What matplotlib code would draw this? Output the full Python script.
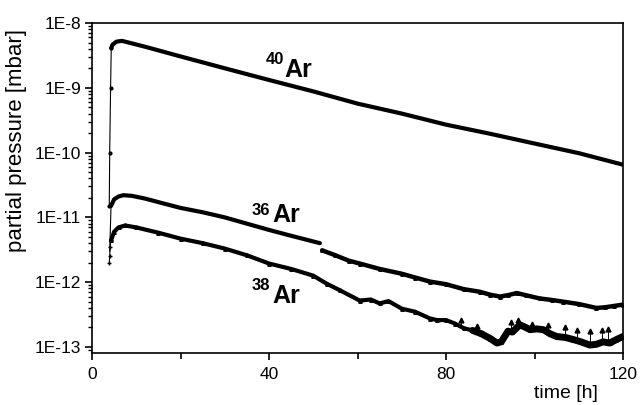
import matplotlib
matplotlib.use("Agg")
import matplotlib.pyplot as plt
from matplotlib.ticker import FixedLocator, LogLocator, NullFormatter

plt.rcParams['font.family'] = ['Liberation Sans', 'DejaVu Sans']

# ---- data ----
t40 = [3.9, 4.0, 4.2, 4.35, 4.6, 5.5, 6.8, 9, 12, 20, 30, 40, 50, 60, 70, 80, 90, 100, 110, 120]
p40 = [1.5e-11, 1e-10, 1e-9, 4.1e-9, 4.6e-9, 5.15e-9, 5.3e-9, 4.85e-9, 4.3e-9, 3.05e-9, 2.0e-9,
       1.32e-9, 8.8e-10, 5.7e-10, 4.0e-10, 2.7e-10, 1.95e-10, 1.38e-10, 9.8e-11, 6.5e-11]

t36a = [4.0, 4.3, 5.0, 6.0, 7.1, 9, 12, 16, 20, 25, 30, 35, 40, 45, 51.5]
p36a = [3e-12, 1.5e-11, 1.9e-11, 2.1e-11, 2.2e-11, 2.15e-11, 1.95e-11, 1.65e-11, 1.4e-11,
        1.2e-11, 1.0e-11, 8.0e-12, 6.4e-12, 5.2e-12, 4.0e-12]
t36b = [52, 55, 58, 60.5, 65, 70, 73, 76.4, 80, 84, 87.7, 90, 92.2, 94, 96, 98, 101.2, 104,
        106.5, 110, 114, 116, 118, 120]
p36b = [3.1e-12, 2.6e-12, 2.15e-12, 1.94e-12, 1.6e-12, 1.35e-12, 1.18e-12, 1.02e-12, 9.3e-13,
        7.8e-13, 7.1e-13, 6.4e-13, 6.0e-13, 6.3e-13, 6.8e-13, 6.3e-13, 5.6e-13, 5.3e-13,
        5.0e-13, 4.6e-13, 4.0e-13, 4.1e-13, 4.3e-13, 4.5e-13]

t38 = [3.9, 4.0, 4.1, 4.3, 5.0, 6.0, 7.5, 10, 15, 20, 25, 30, 35, 40, 45, 50, 53, 56, 60.5,
       63, 65, 67, 70, 73, 76.4, 78, 80, 82, 84, 86, 88, 90, 91.5, 92.5, 94, 95, 96.7, 98, 99,
       100.5, 102, 103.5, 105, 107, 108.8, 110.5, 112.5, 114, 115.5, 117, 118.5, 120]
p38 = [2.0e-12, 2.5e-12, 3.5e-12, 4.4e-12, 6.0e-12, 7.0e-12, 7.5e-12, 7.0e-12, 5.8e-12,
       4.7e-12, 4.0e-12, 3.3e-12, 2.6e-12, 1.94e-12, 1.6e-12, 1.26e-12, 9.5e-13, 7.5e-13,
       5.2e-13, 5.4e-13, 4.7e-13, 5.1e-13, 3.9e-13, 3.5e-13, 2.75e-13, 2.6e-13, 2.6e-13,
       2.3e-13, 1.95e-13, 1.8e-13, 1.6e-13, 1.35e-13, 1.15e-13, 1.2e-13, 1.75e-13, 1.7e-13,
       2.2e-13, 2.0e-13, 1.85e-13, 1.9e-13, 1.85e-13, 1.6e-13, 1.45e-13, 1.4e-13, 1.3e-13,
       1.2e-13, 1.07e-13, 1.1e-13, 1.2e-13, 1.15e-13, 1.3e-13, 1.45e-13]

# upward spikes in the noisy 38Ar tail
t38_spk = [83.3, 87.0, 94.8, 96.3, 99.4, 103.1, 106.9, 109.5, 112.5, 115.2, 116.7]
p38_spk_top = [2.6e-13, 2.1e-13, 2.45e-13, 2.6e-13, 2.3e-13, 2.2e-13, 2.0e-13, 1.85e-13,
               1.75e-13, 1.85e-13, 1.9e-13]
p38_spk_base = [2.1e-13, 1.7e-13, 1.7e-13, 2.0e-13, 1.85e-13, 1.65e-13, 1.4e-13, 1.25e-13,
                1.1e-13, 1.2e-13, 1.2e-13]

xticks_major = [0, 40, 80, 120]
xticks_minor = [20, 60, 100]
yticks = [1e-13, 1e-12, 1e-11, 1e-10, 1e-9, 1e-8]
ytick_labels = ['1E-13', '1E-12', '1E-11', '1E-10', '1E-9', '1E-8']

# ---- figure ----
fig = plt.figure(figsize=(6.4, 4.05), dpi=100)
ax = fig.add_axes([92/640, 1-353/405, (623-92)/640, (353-23)/405])

ax.set_yscale('log')
ax.set_xlim(0, 120)
ax.set_ylim(8.07e-14, 1e-8)

# thin rising parts
ax.plot(t40[:4], p40[:4], color='black', lw=0.8, marker='.', ms=4)
ax.plot(t36a[:2], p36a[:2], color='black', lw=0.8)
ax.plot(t38[:4], p38[:4], color='black', lw=0.8, marker='+', ms=3)
# main curves
ax.plot(t40[3:], p40[3:], color='black', lw=3.0, solid_capstyle='round')
ax.plot(t36a[1:], p36a[1:], color='black', lw=3.0, solid_capstyle='round')
ax.plot(t36b, p36b, color='black', lw=3.2, solid_capstyle='round', marker='^', ms=2.5)
ax.plot(t38[3:], p38[3:], color='black', lw=3.0, solid_capstyle='round', marker='^', ms=2.5)
ax.plot(t38[29:], p38[29:], color='black', lw=5.0, solid_capstyle='round', solid_joinstyle='round')
ax.vlines(t38_spk, p38_spk_base, p38_spk_top, color='black', lw=0.7)
ax.plot(t38_spk, p38_spk_top, ls='none', marker='^', ms=3.5, color='black')

# labels on curves
lab_kw = dict(fontsize=18, fontweight='bold', color='black')
sup_kw = dict(fontsize=12, fontweight='bold', color='black')
ax.text(43.4, 1.47e-9, 'Ar', ha='left', va='baseline', **lab_kw)
ax.text(43.4, 3.6e-9, '40', ha='right', va='top', **sup_kw)
ax.text(40.7, 8.5e-12, 'Ar', ha='left', va='baseline', **lab_kw)
ax.text(40.2, 1.67e-11, '36', ha='right', va='top', **sup_kw)
ax.text(40.7, 4.8e-13, 'Ar', ha='left', va='baseline', **lab_kw)
ax.text(40.3, 1.16e-12, '38', ha='right', va='top', **sup_kw)

# ticks
ax.xaxis.set_major_locator(FixedLocator(xticks_major))
ax.xaxis.set_minor_locator(FixedLocator(xticks_minor))
ax.set_xticklabels([str(v) for v in xticks_major])
ax.yaxis.set_major_locator(FixedLocator(yticks))
ax.set_yticklabels(ytick_labels)
ax.yaxis.set_minor_locator(LogLocator(base=10, subs=range(2, 10), numticks=20))
ax.yaxis.set_minor_formatter(NullFormatter())

ax.tick_params(axis='both', which='major', direction='out', length=5, width=1.2,
               labelsize=12.5, pad=3, top=False, right=False)
ax.tick_params(axis='both', which='minor', direction='out', length=3, width=1.0,
               top=False, right=False)
ax.tick_params(axis='x', which='minor', length=4, width=1.2)
ax.tick_params(axis='x', which='major', pad=5)

for s in ax.spines.values():
    s.set_linewidth(1.2)

ax.set_ylabel('partial pressure [mbar]', fontsize=16)
ax.yaxis.set_label_coords(-0.122, 0.645)
fig.text(598/640, 3/405, 'time [h]', ha='right', va='bottom', fontsize=14)

fig.savefig('out.png', dpi=100)
